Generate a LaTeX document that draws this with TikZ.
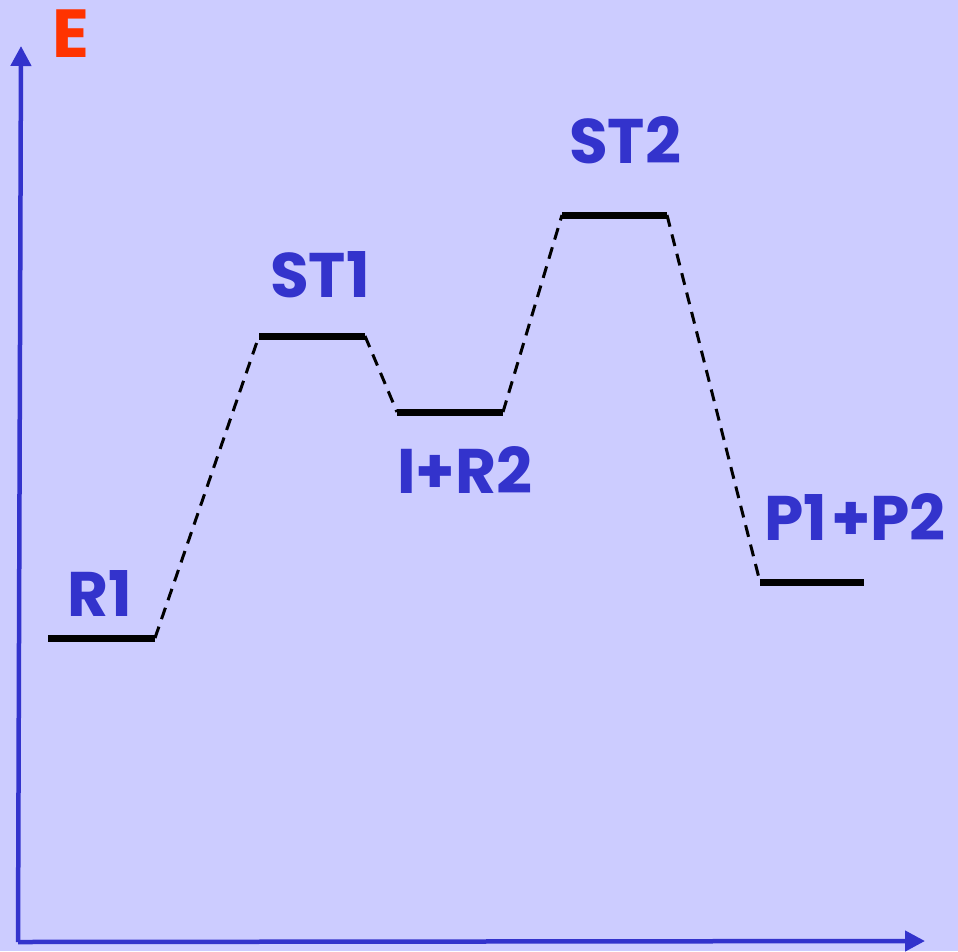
\documentclass[tikz,border=0pt]{standalone}
\usepackage{fontspec}
\setmainfont{Poppins}
\usetikzlibrary{arrows.meta}
\definecolor{bgblue}{HTML}{CCCCFF}
\definecolor{axisblue}{HTML}{3333CC}
\definecolor{ered}{HTML}{FF3300}
\tikzset{
  axis/.style={draw=axisblue, line width=4.5pt, -{Triangle[length=20pt,width=20pt]}},
  level/.style={draw=black, line width=7pt},
  path link/.style={draw=black, line width=3pt, dash pattern=on 12pt off 8pt},
  lbl/.style={text=axisblue, font=\fontsize{63}{63}\selectfont\bfseries, inner sep=0pt, anchor=center},
}
\begin{document}
\begin{tikzpicture}[x=1pt,y=-1pt]
  % page and background
  \fill[bgblue] (0,0) rectangle (958,951);
  \useasboundingbox (0,0) rectangle (958,951);

  % axes
  \coordinate (origin) at (18,942);
  \coordinate (ytip) at (21,46);
  \coordinate (xtip) at (925,941);
  \draw[axis] (origin) -- (ytip);
  \draw[axis] (origin) -- (xtip);
  \node[text=ered, font=\fontsize{68}{68}\selectfont\bfseries, inner sep=0pt] (elabel) at (71,34) {E};

  % energy levels
  \coordinate (r1a) at (48,638);  \coordinate (r1b) at (155,638);
  \coordinate (s1a) at (259,336); \coordinate (s1b) at (365,336);
  \coordinate (ia)  at (397,412); \coordinate (ib)  at (503,412);
  \coordinate (s2a) at (562,215); \coordinate (s2b) at (667,215);
  \coordinate (pa)  at (760,582); \coordinate (pb)  at (864,582);

  \draw[level] (r1a) -- (r1b);
  \draw[level] (s1a) -- (s1b);
  \draw[level] (ia) -- (ib);
  \draw[level] (s2a) -- (s2b);
  \draw[level] (pa) -- (pb);

  % reaction path
  \draw[path link] (r1b) -- (s1a);
  \draw[path link] (s1b) -- (ia);
  \draw[path link] (ib) -- (s2a);
  \draw[path link] (s2b) -- (pa);

  % level labels
  \node[lbl] (lr1) at (100,593) {R1};
  \node[lbl] (ls1) at (320,275) {ST1};
  \node[lbl] (li)  at (465,470) {I+R2};
  \node[lbl] (ls2) at (625,140) {ST2};
  \node[lbl] (lp)  at (855,517) {P1\kern4pt+P2};
\end{tikzpicture}
\end{document}
